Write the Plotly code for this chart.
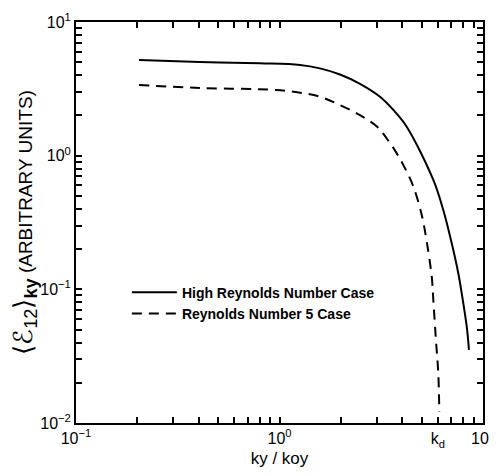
import plotly.graph_objects as go

# Data
high_re_x = [0.204, 0.406, 0.80, 1.261, 1.58, 1.983, 2.486, 3.118, 3.625, 4.217, 5.70, 6.38, 7.02, 7.56, 7.86, 8.32, 8.53]
high_re_y = [5.20, 5.02, 4.91, 4.77, 4.50, 4.05, 3.45, 2.76, 2.20, 1.647, 0.658, 0.392, 0.221, 0.132, 0.0934, 0.0525, 0.0352]
re5_x = [0.204, 0.406, 0.96, 1.261, 1.58, 1.983, 2.486, 3.00, 3.36, 3.77, 4.14, 4.55, 5.00, 5.29, 5.60, 5.70, 5.87, 6.03, 6.10]
re5_y = [3.38, 3.21, 3.10, 2.96, 2.76, 2.39, 2.01, 1.66, 1.35, 1.04, 0.804, 0.586, 0.36, 0.228, 0.124, 0.0832, 0.0418, 0.0235, 0.0121]

x_tickvals = [0.1, 0.2, 0.3, 0.4, 0.5, 0.6, 0.7, 0.8, 0.9, 1, 2, 3, 4, 5, 6, 7, 8, 9, 10]
x_ticktext = ["10<sup>−1</sup>"] + [""] * 8 + ["10<sup>0</sup>", "", "", "", "", "k<sub>d</sub>", "", "", "", "10<sup>1</sup>"]
y_tickvals = [m * d for d in (0.01, 0.1, 1) for m in range(1, 10)] + [10]
y_ticktext = []
for lab in ("10<sup>−2</sup>", "10<sup>−1</sup>", "10<sup>0</sup>"):
    y_ticktext += [lab] + [""] * 8
y_ticktext += ["10<sup>1</sup>"]

font = "Liberation Sans, Arial, sans-serif"

fig = go.Figure()
fig.add_trace(go.Scatter(x=high_re_x, y=high_re_y, mode="lines",
                         line=dict(color="black", width=2, shape="spline", smoothing=1.0),
                         name="High Reynolds Number Case"))
fig.add_trace(go.Scatter(x=re5_x, y=re5_y, mode="lines",
                         line=dict(color="black", width=2, dash="10px,7px", shape="spline", smoothing=1.0),
                         name="Reynolds Number 5 Case"))

axis_common = dict(type="log", showline=True, linecolor="black", linewidth=2, mirror="ticks",
                   ticks="inside", ticklen=6, tickwidth=2, tickcolor="black", showgrid=False, zeroline=False,
                   automargin=False, tickfont=dict(family=font, size=16, color="black"))

fig.update_xaxes(range=[-1, 1], tickmode="array", tickvals=x_tickvals, ticktext=x_ticktext,
                 title=dict(text="ky / koy", font=dict(family=font, size=17, color="black"), standoff=4),
                 **axis_common)
fig.update_yaxes(range=[-2, 1], tickmode="array", tickvals=y_tickvals, ticktext=y_ticktext,
                 title=dict(text="<span style='font-size:26px'>⟨ℰ<sub>12</sub>⟩<sub><b>ky</b></sub></span>"
                                 " (ARBITRARY UNITS)",
                            font=dict(family=font, size=19, color="black"), standoff=10),
                 **axis_common)

fig.update_layout(
    width=489, height=468,
    margin=dict(l=68, r=14, t=14, b=53),
    plot_bgcolor="white", paper_bgcolor="white",
    legend=dict(x=0.125, y=0.365, xanchor="left", yanchor="top", bgcolor="rgba(0,0,0,0)",
                font=dict(family=font, size=14, color="black", weight="bold"), itemwidth=45, tracegroupgap=2),
    showlegend=True,
)

fig.write_html("out.html")
